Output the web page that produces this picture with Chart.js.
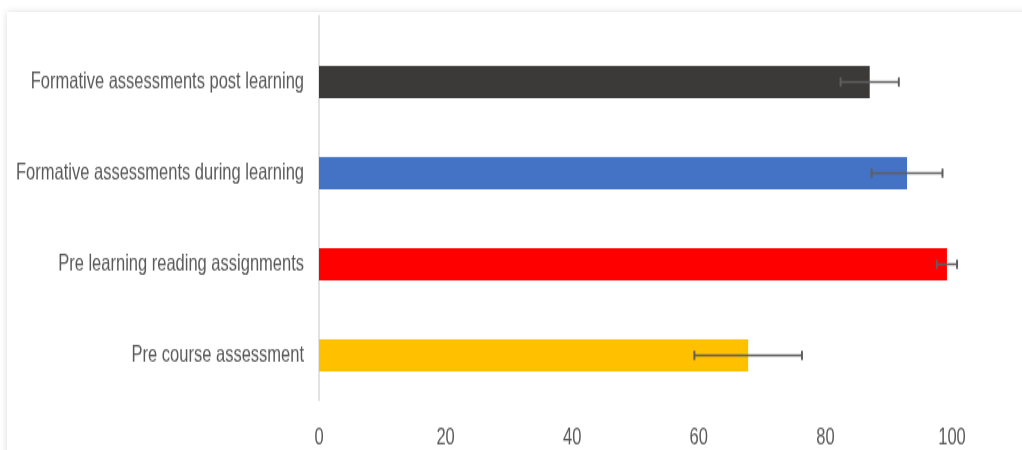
<!DOCTYPE html>
<html>
<head>
<meta charset="utf-8">
<script src="https://cdn.jsdelivr.net/npm/chart.js@4"></script>
<style>
  html, body { margin: 0; padding: 0; background: #fff; overflow: hidden; }
  #card {
    position: absolute; left: 7px; top: 12px; width: 1100px; height: 500px;
    background: #fff; box-shadow: 0 0 7px rgba(0, 0, 0, 0.14);
  }
  #chart { position: absolute; left: 0; top: 0; }
</style>
</head>
<body>
<div id="card"></div>
<canvas id="chart" width="1022" height="321" style="width:1022px;height:450px"></canvas>
<script>
const categories = [
  "Formative assessments post learning",
  "Formative assessments during learning",
  "Pre learning reading assignments",
  "Pre course assessment"
];
const scores = [87, 92.9, 99.2, 67.8];
const errors = [4.6, 5.6, 1.6, 8.5];
const barColors = ["#3b3a38", "#4472c4", "#ff0000", "#ffc000"];
const xTicks = [0, 20, 40, 60, 80, 100];

// the picture is stretched vertically, so the canvas is drawn short and scaled up by css
const stretch = 450 / 321;

const errorBars = {
  id: "errorBars",
  beforeDatasetsDraw(chart) {
    const x = chart.scales.x;
    const ctx = chart.ctx;
    const x0 = x.getPixelForValue(0);
    ctx.save();
    ctx.strokeStyle = "#d9d9d9";
    ctx.lineWidth = 1.5;
    ctx.beginPath();
    ctx.moveTo(x0, 15 / stretch);
    ctx.lineTo(x0, chart.chartArea.bottom);
    ctx.stroke();
    ctx.restore();
  },
  afterDatasetsDraw(chart) {
    const x = chart.scales.x;
    const ctx = chart.ctx;
    const meta = chart.getDatasetMeta(0);
    ctx.save();
    ctx.strokeStyle = "#5f5f5f";
    meta.data.forEach(function (bar, i) {
      const lo = x.getPixelForValue(scores[i] - errors[i]);
      const hi = x.getPixelForValue(scores[i] + errors[i]);
      const y = bar.y;
      const cap = 3.2;
      ctx.lineWidth = 1.5;
      ctx.beginPath();
      ctx.moveTo(lo, y);
      ctx.lineTo(hi, y);
      ctx.stroke();
      ctx.lineWidth = 2;
      ctx.beginPath();
      ctx.moveTo(lo, y - cap);
      ctx.lineTo(lo, y + cap);
      ctx.moveTo(hi, y - cap);
      ctx.lineTo(hi, y + cap);
      ctx.stroke();
    });
    ctx.restore();
  }
};

new Chart(document.getElementById("chart"), {
  type: "bar",
  data: {
    labels: categories,
    datasets: [{
      data: scores,
      backgroundColor: barColors,
      borderWidth: 0,
      categoryPercentage: 1,
      barPercentage: 0.351
    }]
  },
  options: {
    indexAxis: "y",
    responsive: false,
    animation: false,
    devicePixelRatio: 1,
    layout: { padding: { top: 26, right: 70, left: 0, bottom: 0 } },
    plugins: {
      legend: { display: false },
      tooltip: { enabled: false }
    },
    scales: {
      x: {
        min: 0,
        max: 100,
        afterBuildTicks: function (scale) {
          scale.ticks = xTicks.map(v => ({ value: v }));
        },
        afterFit: function (scale) { scale.height = 35; },
        grid: { display: false },
        border: { display: false },
        ticks: {
          color: "#595959",
          padding: 9,
          font: { family: "'Liberation Sans', Arial, sans-serif", size: 16.5 }
        }
      },
      y: {
        afterFit: function (scale) { scale.width = 319; },
        grid: { display: false, drawTicks: false },
        border: { display: false },
        ticks: {
          color: "#595959",
          padding: 15,
          font: { family: "'Liberation Sans', Arial, sans-serif", size: 16.5 }
        }
      }
    }
  },
  plugins: [errorBars]
});
</script>
</body>
</html>
